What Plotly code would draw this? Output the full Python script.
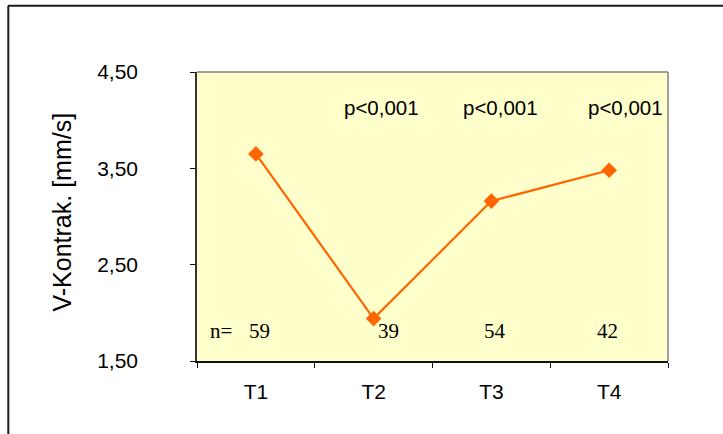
import plotly.graph_objects as go

categories = ["T1", "T2", "T3", "T4"]
v_kontrak = [3.65, 1.94, 3.16, 3.48]
n_values = [59, 39, 54, 42]
p_labels = ["", "p<0,001", "p<0,001", "p<0,001"]
y_tickvals = [1.5, 2.5, 3.5, 4.5]
y_ticktext = ["1,50", "2,50", "3,50", "4,50"]
y_title = "V-Kontrak. [mm/s]"

# label placement tweaks (x offset in category units)
p_offsets = [0.0, 0.063, 0.079, 0.142]
n_offsets = [0.031, 0.128, 0.031, -0.011]

W, H = 723, 434
L, R, T, B = 197, 55, 72, 73
pw, ph = W - L - R, H - T - B

def px_x(p):
    return (p - L) / pw

def px_y(p):
    return (H - B - p) / ph

fig = go.Figure()
fig.add_trace(go.Scatter(
    x=categories, y=v_kontrak, mode="lines+markers",
    line=dict(color="#FF6600", width=2.2),
    marker=dict(symbol="diamond", size=12, color="#FF6600"),
    showlegend=False, hoverinfo="skip",
))

ann = []
for i, lab in enumerate(p_labels):
    if lab:
        ann.append(dict(x=i + p_offsets[i], y=4.13, xref="x", yref="y", text=lab,
                        showarrow=False, xanchor="center", yanchor="middle",
                        font=dict(family="Liberation Sans, Arial", size=20.5, color="black")))
for i, n in enumerate(n_values):
    ann.append(dict(x=i + n_offsets[i], y=1.81, xref="x", yref="y", text=str(n),
                    showarrow=False, xanchor="center", yanchor="middle",
                    font=dict(family="Liberation Serif, Times New Roman", size=21, color="black")))
ann.append(dict(x=-0.299, y=1.81, xref="x", yref="y", text="n=",
                showarrow=False, xanchor="center", yanchor="middle",
                font=dict(family="Liberation Serif, Times New Roman", size=21, color="black")))
ann.append(dict(x=px_x(61), y=px_y(212.5), xref="paper", yref="paper", text=y_title,
                showarrow=False, textangle=-90, xanchor="center", yanchor="middle",
                font=dict(family="Liberation Sans, Arial", size=25, color="black")))

shapes = [
    # plot area frame top / right (gray)
    dict(type="line", xref="paper", yref="paper", x0=0, x1=1, y0=1, y1=1,
         line=dict(color="#808080", width=1.5)),
    dict(type="line", xref="paper", yref="paper", x0=1, x1=1, y0=0, y1=1,
         line=dict(color="#808080", width=1.5)),
    # outer chart border (top & left visible)
    dict(type="line", xref="paper", yref="paper", x0=px_x(8), x1=px_x(740), y0=px_y(5.7), y1=px_y(5.7),
         line=dict(color="#1a1a1a", width=2)),
    dict(type="line", xref="paper", yref="paper", x0=px_x(8.3), x1=px_x(8.3), y0=px_y(5.7), y1=px_y(450),
         line=dict(color="#1a1a1a", width=2)),
]

fig.update_layout(
    width=W, height=H,
    margin=dict(l=L, r=R, t=T, b=B, pad=0),
    paper_bgcolor="white", plot_bgcolor="#FFFFCC",
    annotations=ann, shapes=shapes,
    font=dict(family="Liberation Sans, Arial", size=21, color="black"),
)
fig.update_xaxes(
    type="category", range=[-0.5, 3.5], tickson="boundaries",
    showline=True, linecolor="#111111", linewidth=1.5,
    ticks="outside", ticklen=5, tickcolor="#111111", tickwidth=1,
    showgrid=False, zeroline=False, ticklabelstandoff=11,
    tickfont=dict(family="Liberation Sans, Arial", size=21, color="black"),
)
fig.update_yaxes(
    range=[1.5, 4.5], tickvals=y_tickvals, ticktext=y_ticktext,
    showline=True, linecolor="#333333", linewidth=1.5,
    ticks="outside", ticklen=5, tickcolor="#111111", tickwidth=1,
    showgrid=False, zeroline=False, ticklabelstandoff=48,
    tickfont=dict(family="Liberation Sans, Arial", size=21, color="black"),
)

fig.write_html("out.html")
